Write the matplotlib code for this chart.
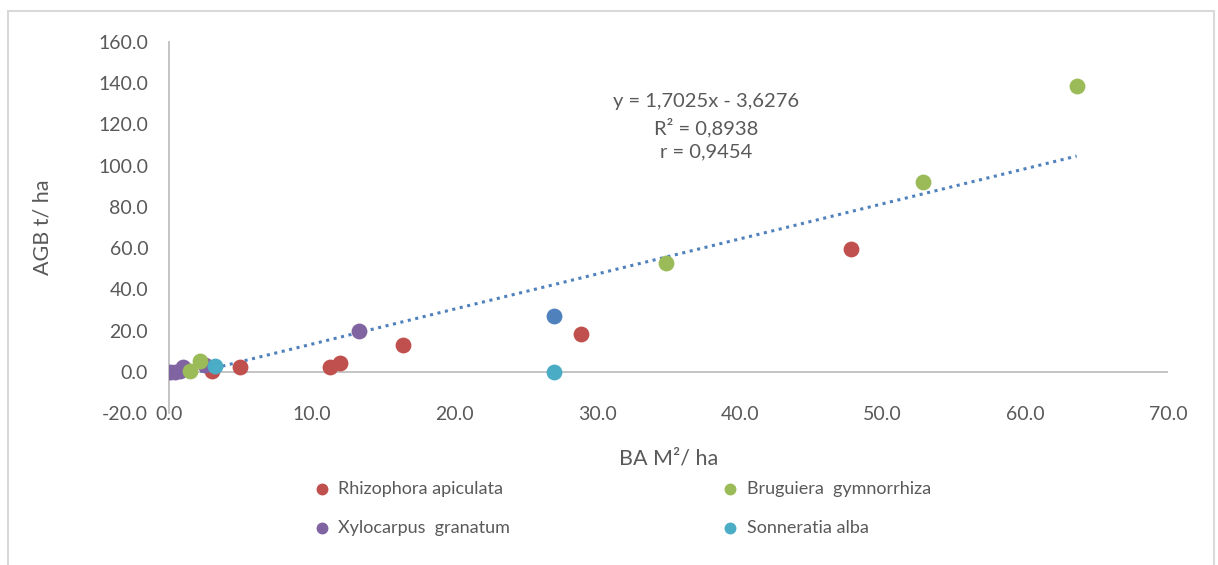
import numpy as np
import matplotlib
matplotlib.use("Agg")
import matplotlib.pyplot as plt
from matplotlib.patches import Rectangle
from matplotlib.ticker import FormatStrFormatter

plt.rcParams['font.family'] = ['Lato', 'DejaVu Sans']

# data
rhizo_x = [3.0, 5.0, 11.3, 12.0, 16.4, 28.9, 47.8]
rhizo_y = [0.5, 2.5, 2.5, 4.5, 13.0, 18.3, 59.5]
brug_x = [1.5, 2.2, 34.8, 52.8, 63.6]
brug_y = [0.5, 5.0, 53.0, 92.0, 138.5]
xylo_x = [0.1, 0.4, 0.8, 1.0, 2.5, 13.3]
xylo_y = [0.0, 0.0, 0.5, 2.5, 3.5, 20.0]
sonn_x = [3.2, 27.0]
sonn_y = [3.0, 0.0]
other_x = [27.0]
other_y = [27.0]

slope = 1.7025
intercept = -3.6276
eq_lines = ["y = 1,7025x - 3,6276", "R² = 0,8938", "r = 0,9454"]

xticks = [0, 10, 20, 30, 40, 50, 60, 70]
yticks = [-20, 0, 20, 40, 60, 80, 100, 120, 140, 160]

c_red = '#C0504D'
c_green = '#9BBB59'
c_purple = '#8064A2'
c_aqua = '#4BACC6'
c_blue = '#4F81BD'
grey_txt = '#595959'
grey_line = '#BFBFBF'

fig = plt.figure(figsize=(12.18, 5.65), dpi=100)
ax = fig.add_axes([169/1218, 1-413/565, (1168-169)/1218, (413-42)/565])

# cadre du graphique
fig.patches.append(Rectangle((8/1218, -0.1), (1214-8)/1218, 1.1 - 11/565,
                             transform=fig.transFigure, fill=False,
                             edgecolor='#D9D9D9', linewidth=1.5))

ms = 130
ax.scatter(other_x, other_y, s=ms, color=c_blue, zorder=3, linewidths=0)
ax.scatter(rhizo_x, rhizo_y, s=ms, color=c_red, zorder=3, linewidths=0, label='Rhizophora apiculata')
ax.scatter(xylo_x, xylo_y, s=ms, color=c_purple, zorder=3, linewidths=0, label='Xylocarpus  granatum')
ax.scatter(brug_x, brug_y, s=ms, color=c_green, zorder=3, linewidths=0, label='Bruguiera  gymnorrhiza')
ax.scatter(sonn_x, sonn_y, s=ms, color=c_aqua, zorder=3, linewidths=0, label='Sonneratia alba')

# courbe de tendance
all_x = rhizo_x + brug_x + xylo_x + sonn_x + other_x
tx = np.array([min(all_x), max(all_x)])
ax.plot(tx, slope*tx + intercept, color=c_blue, linestyle=(0, (1, 1.5)), linewidth=2.2, zorder=2)

ax.text(0.538, 0.771, "\n".join(eq_lines), transform=ax.transAxes, ha='center', va='center',
        fontsize=14.5, color=grey_txt, linespacing=1.45)

ax.set_xlim(0, 70)
ax.set_ylim(-20, 160)
ax.set_xticks(xticks)
ax.set_yticks(yticks)
ax.xaxis.set_major_formatter(FormatStrFormatter('%.1f'))
ax.yaxis.set_major_formatter(FormatStrFormatter('%.1f'))
ax.tick_params(length=0, labelsize=14, labelcolor=grey_txt)
ax.tick_params(axis='y', pad=15)
ax.tick_params(axis='x', pad=-5)

for s in ['top', 'right', 'bottom']:
    ax.spines[s].set_visible(False)
ax.spines['left'].set_color(grey_line)
ax.spines['left'].set_linewidth(1.3)
ax.axhline(0, color=grey_line, linewidth=1.3, zorder=1)

ax.set_xlabel("BA M²/ ha", fontsize=15.5, color=grey_txt, labelpad=18)
ax.set_ylabel("AGB t/ ha", fontsize=15.5, color=grey_txt, labelpad=33)

h, l = ax.get_legend_handles_labels()
fig.legend(h, l, ncol=2, loc='upper left',
           bbox_to_anchor=(313/1218, 1-481/565), frameon=False, fontsize=13,
           labelcolor=grey_txt, handlelength=1.0, handletextpad=0.4, columnspacing=11.7,
           labelspacing=1.25, borderpad=0, borderaxespad=0, scatterpoints=1, markerscale=0.75)

fig.savefig("out.png", dpi=100)
